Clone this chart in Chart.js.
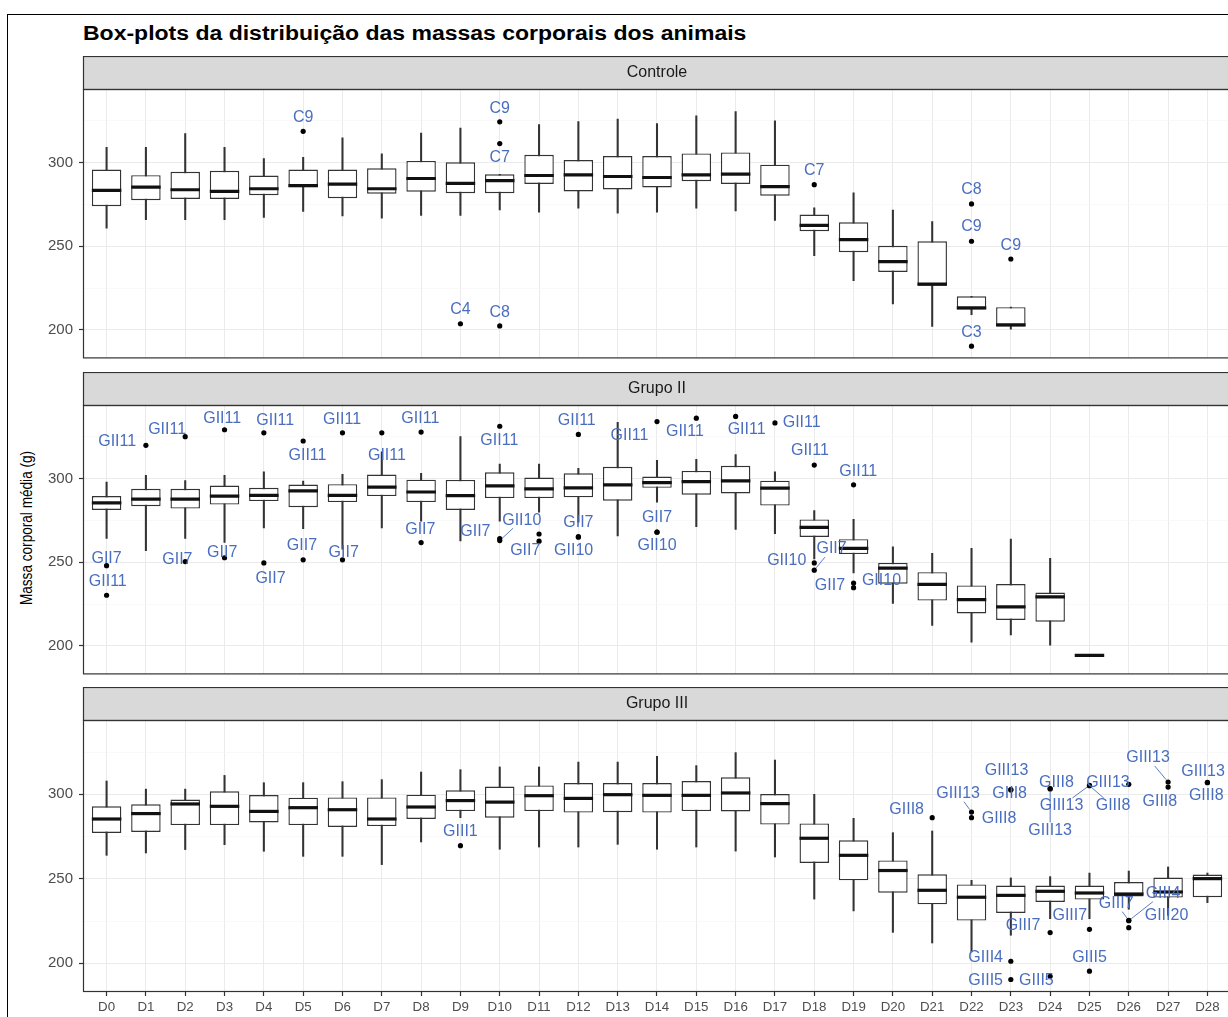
<!DOCTYPE html>
<html lang="pt">
<head>
<meta charset="utf-8">
<title>Box-plots da distribuição das massas corporais dos animais</title>
<script src="https://cdn.jsdelivr.net/npm/chart.js@4.4.1/dist/chart.umd.min.js"></script>
<style>
  html, body { margin: 0; padding: 0; background: #fff; overflow: hidden; width: 1228px; height: 1017px; }
  #frame { position: absolute; left: 7px; top: 14px; width: 1400px; height: 1100px;
           border-left: 1px solid #000; border-top: 1px solid #000; }
  #title { position: absolute; left: 83px; top: 23px; white-space: nowrap; color: #000;
           font: bold 20px 'Liberation Sans', Arial, Helvetica, sans-serif; line-height: 20px;
           transform: scaleX(1.15); transform-origin: 0 0; }
  #ytitle { position: absolute; left: -124.5px; top: 519.5px; width: 300px; height: 16px;
            line-height: 16px; text-align: center; white-space: nowrap; color: #000;
            font: 16px 'Liberation Sans', Arial, Helvetica, sans-serif;
            transform: rotate(-90deg) scaleX(0.85); }
  canvas { position: absolute; left: 0; }
</style>
</head>
<body>
<div id="frame"></div>
<div id="title">Box-plots da distribuição das massas corporais dos animais</div>
<div id="ytitle">Massa corporal média (g)</div>
<canvas id="c1" width="1240" height="305" style="top:56px"></canvas>
<canvas id="c2" width="1240" height="305" style="top:372px"></canvas>
<canvas id="c3" width="1240" height="331" style="top:687px"></canvas>
<script>
// ---- categories and axis ticks ----
const days = ['D0','D1','D2','D3','D4','D5','D6','D7','D8','D9','D10','D11','D12','D13','D14',
              'D15','D16','D17','D18','D19','D20','D21','D22','D23','D24','D25','D26','D27','D28'];
const yTicks = [200, 225, 250, 275, 300, 325];
const yLabelTicks = [200, 250, 300];
const facetNames = ['Controle', 'Grupo II', 'Grupo III'];

// ---- Controle: whisker ends, quartiles, medians ----
const ctrlLow  = [260.9,265.9,265.9,265.9,267.2,270.8,268.2,266.8,268.4,268.4,271.8,270.4,272.8,269.8,270.4,272.8,271.2,265.5,244.4,229.4,215.6,202.1,209.2,200.4,null,null,null,null,null];
const ctrlQ1   = [274.0,277.5,278.3,278.3,280.5,285.3,278.7,281.4,282.6,281.7,281.7,287.3,282.8,284.0,285.2,288.9,287.3,280.2,259.0,246.5,234.7,226.4,212.2,202.0,null,null,null,null,null];
const ctrlMed  = [283.4,285.4,283.8,282.8,284.4,286.2,287.2,284.4,290.5,287.6,289.3,292.3,292.7,291.7,291.1,292.7,293.1,285.6,262.5,254.0,240.8,227.4,213.2,203.0,null,null,null,null,null];
const ctrlQ3   = [295.9,292.5,294.5,295.1,292.3,295.9,295.9,296.6,301.0,300.2,293.0,304.7,301.5,303.9,303.9,305.5,306.1,298.8,269.0,264.3,250.3,253.0,220.1,213.6,null,null,null,null,null];
const ctrlHigh = [309.2,309.2,317.3,309.2,302.4,303.1,314.8,305.3,317.7,320.7,293.0,322.7,324.6,326.0,323.3,328.0,330.5,325.0,273.0,282.0,271.6,264.7,220.1,213.6,null,null,null,null,null];
// outliers: [day index, mass, animal]
const ctrlOut = [
  [5,318.7,'C9'], [9,203.7,'C4'], [10,324.4,'C9'], [10,311.4,'C7'], [10,202.4,'C8'],
  [18,286.8,'C7'], [22,275.3,'C8'], [22,253.0,'C9'], [22,190.3,'C3'], [23,242.4,'C9']
];
// label anchor for each outlier (day units, mass units, draw connector)
const ctrlLabelAt = [
  [5.0,327.2,0], [9.0,212.2,0], [10.0,332.5,0], [10.0,303.0,0], [10.0,210.2,0],
  [18.0,295.4,0], [22.0,283.6,0], [22.0,261.9,0], [22.0,198.4,0], [23.0,250.7,0]
];

// ---- Grupo II ----
const g2Low  = [264.2,257.0,264.2,261.8,270.5,270.1,257.9,270.5,274.6,262.8,274.6,279.9,274.0,265.7,286.0,271.3,269.7,267.1,252.0,243.7,225.4,212.2,202.3,206.6,200.4,194.4,null,null,null];
const g2Q1   = [281.3,283.5,282.1,284.5,286.6,282.9,286.0,289.6,286.0,281.3,288.4,288.4,288.8,286.8,294.5,290.4,291.1,283.9,265.1,254.9,237.2,227.1,219.4,215.5,214.5,194.4,null,null,null];
const g2Med  = [285.5,287.8,287.8,289.6,290.0,292.7,290.0,294.9,292.0,289.8,295.7,293.9,294.5,296.3,297.6,298.2,298.6,294.3,270.9,258.3,246.5,236.8,227.7,223.4,229.3,194.4,null,null,null];
const g2Q3   = [289.6,293.9,293.9,295.9,294.5,296.5,296.7,302.4,299.4,299.2,303.8,300.6,303.2,307.1,301.2,304.6,307.7,298.8,275.6,263.8,249.6,244.1,236.2,237.0,231.9,194.4,null,null,null];
const g2High = [297.9,302.0,298.8,302.0,304.0,298.6,302.6,316.0,303.2,325.2,308.7,308.7,306.1,333.7,311.0,311.5,314.4,304.1,280.9,275.6,259.2,255.3,258.4,263.8,252.4,194.4,null,null,null];
const g2Out = [
  [0,248.0,'GII7'], [0,230.3,'GII11'],
  [1,319.9,'GII11'],
  [2,325.1,'GII11'], [2,250.4,'GII7'],
  [3,329.2,'GII11'], [3,252.7,'GII7'],
  [4,327.4,'GII11'], [4,249.6,'GII7'],
  [5,322.5,'GII11'], [5,251.5,'GII7'],
  [6,327.4,'GII11'], [6,251.5,'GII7'],
  [7,327.4,'GII11'],
  [8,327.8,'GII11'], [8,261.8,'GII7'],
  [10,331.3,'GII11'], [10,264.2,'GII7'], [10,263.0,'GII10'],
  [11,266.9,''], [11,262.6,'GII7'],
  [12,326.4,'GII11'], [12,265.4,'GII7'], [12,265.0,'GII10'],
  [14,334.1,'GII11'], [14,268.1,'GII7'], [14,268.0,'GII10'],
  [15,336.1,'GII11'],
  [16,337.2,'GII11'],
  [17,333.3,'GII11'],
  [18,308.1,'GII11'], [18,249.6,'GII10'], [18,245.3,'GII7'],
  [19,296.3,'GII11'], [19,237.6,'GII7'], [19,234.8,'GII10']
];
const g2LabelAt = [
  [0.0,252.4,0], [0.03,238.2,0],
  [0.27,322.3,0],
  [1.54,329.2,0], [1.8,251.5,0],
  [2.94,335.7,0], [2.94,255.5,0],
  [4.29,334.7,0], [4.17,240.1,0],
  [5.11,314.0,0], [4.97,259.8,0],
  [5.99,335.1,0], [6.03,256.0,0],
  [7.13,314.0,0],
  [7.98,335.6,0], [7.98,269.6,0],
  [9.99,322.9,0], [9.38,268.3,0], [10.56,275.2,1],
  [11.0,266.9,0], [10.65,256.9,0],
  [11.96,334.7,0], [12.0,273.6,0], [11.88,256.9,0],
  [13.3,325.8,0], [14.0,276.6,0], [14.0,259.8,0],
  [14.71,328.2,0],
  [16.28,329.2,0],
  [17.68,333.7,0],
  [17.89,317.0,0], [17.3,250.9,0], [18.44,257.9,1],
  [19.12,304.1,0], [18.4,236.2,0], [19.71,238.8,0]
];

// ---- Grupo III ----
const g3Low  = [263.9,265.3,267.3,270.2,266.3,263.3,263.3,258.4,271.8,286.2,267.5,268.8,268.8,270.4,267.5,268.8,266.4,262.9,238.0,231.0,218.3,212.0,206.7,216.6,226.4,226.4,232.0,228.4,235.9];
const g3Q1   = [277.1,277.7,281.8,281.8,283.4,281.8,280.7,281.2,285.4,290.1,286.2,290.1,289.2,289.4,289.2,290.1,289.9,282.1,259.4,249.1,241.8,234.9,225.3,229.8,236.3,237.7,239.6,238.9,239.1];
const g3Med  = [285.4,288.6,294.3,292.9,289.9,292.1,290.9,285.4,292.5,296.3,295.4,299.2,297.6,299.8,299.4,299.4,300.8,294.5,274.0,263.9,254.9,243.2,239.1,240.2,242.6,241.6,241.0,242.2,250.1];
const g3Q3   = [292.9,294.1,296.9,301.8,299.6,298.0,298.2,298.2,299.8,302.4,304.6,305.3,306.7,306.7,306.7,307.9,310.1,300.2,282.8,272.8,260.9,252.7,246.7,246.0,246.0,246.0,248.1,250.7,252.5];
const g3High = [307.9,303.1,303.1,311.2,306.9,306.9,307.5,308.7,313.2,314.6,316.2,316.2,319.1,319.1,322.5,317.0,324.7,320.3,300.0,285.8,277.3,278.3,249.1,250.5,251.3,253.4,254.6,257.0,253.4];
const g3Out = [
  [9,269.6,'GIII1'],
  [21,286.2,'GIII8'],
  [22,289.5,'GIII13'], [22,286.2,'GIII8'],
  [23,302.8,'GIII13'], [23,302.6,'GIII8'], [23,201.2,'GIII4'], [23,190.4,'GIII5'],
  [24,303.4,'GIII8'], [24,303.2,'GIII13'], [24,218.2,'GIII7'], [24,192.3,'GIII5'],
  [25,305.3,'GIII13'], [25,305.1,'GIII8'], [25,220.1,'GIII7'], [25,195.3,'GIII5'],
  [26,305.9,'GIII13'], [26,225.4,'GIII7'], [26,221.1,'GIII20'], [26,225.2,'GIII4'],
  [27,307.3,'GIII13'], [27,304.3,'GIII8'],
  [28,307.1,'GIII13'], [28,306.9,'GIII8']
];
const g3LabelAt = [
  [9.0,278.1,0],
  [20.35,291.1,0],
  [21.66,300.4,1], [22.7,285.6,0],
  [22.89,314.2,0], [22.97,300.4,0], [22.36,203.1,0], [22.36,190.0,0],
  [24.16,306.9,0], [24.0,278.7,1], [23.31,222.5,0], [23.65,190.0,0],
  [24.29,293.1,1], [25.6,293.1,1], [24.5,228.4,0], [25.0,203.1,0],
  [25.47,306.9,0], [25.68,235.3,1], [26.96,228.0,0], [26.87,241.2,1],
  [26.49,321.5,1], [26.79,295.9,0],
  [27.89,313.2,0], [27.97,299.4,0]
];

// ---- drawing ----
const FONT = "'Liberation Sans', Arial, Helvetica, sans-serif";
const LABEL_BLUE = '#4A6EBF';
const STRIP_H = 33;

// facet strip with its title, and the panel border
const facetPlugin = {
  id: 'facet',
  afterDraw(chart, args, opts) {
    const { ctx, chartArea: a } = chart;
    ctx.save();
    ctx.fillStyle = '#D9D9D9';
    ctx.fillRect(a.left, a.top - STRIP_H, a.right - a.left, STRIP_H);
    ctx.strokeStyle = '#333333';
    ctx.lineWidth = 1.2;
    ctx.strokeRect(a.left + 0.5, a.top - STRIP_H + 0.5, a.right - a.left - 1, STRIP_H);
    ctx.strokeRect(a.left + 0.5, a.top + 0.5, a.right - a.left - 1, a.bottom - a.top - 1);
    ctx.fillStyle = '#1A1A1A';
    ctx.font = '16px ' + FONT;
    ctx.textAlign = 'center';
    ctx.textBaseline = 'middle';
    ctx.fillText(opts.title, (a.left + a.right) / 2, a.top - STRIP_H / 2 + 0.5);
    ctx.restore();
  }
};

// outlier names, with a thin connector where the name sits away from its point
const outlierLabelPlugin = {
  id: 'outlierLabels',
  afterDatasetsDraw(chart, args, opts) {
    const { ctx, chartArea: a, scales: { x, y } } = chart;
    ctx.save();
    ctx.beginPath();
    ctx.rect(a.left, a.top, a.right - a.left, a.bottom - a.top);
    ctx.clip();
    ctx.font = '16px ' + FONT;
    ctx.textAlign = 'center';
    ctx.textBaseline = 'middle';
    opts.points.forEach((p, i) => {
      const name = p[2];
      if (!name) return;
      const at = opts.places[i];
      const lx = x.getPixelForValue(at[0]);
      const ly = y.getPixelForValue(at[1]);
      if (at[2]) {
        const px = x.getPixelForValue(p[0]);
        const py = y.getPixelForValue(p[1]);
        const hw = ctx.measureText(name).width / 2 + 2;
        const hh = 8;
        const vx = px - lx, vy = py - ly;
        const s = Math.min(vx ? hw / Math.abs(vx) : Infinity, vy ? hh / Math.abs(vy) : Infinity);
        if (s < 1) {
          const len = Math.hypot(vx, vy);
          const ex = lx + vx * s, ey = ly + vy * s;
          const sx = px - vx / len * 3, sy = py - vy / len * 3;
          ctx.strokeStyle = LABEL_BLUE;
          ctx.lineWidth = 0.9;
          ctx.beginPath();
          ctx.moveTo(sx, sy);
          ctx.lineTo(ex, ey);
          ctx.stroke();
        }
      }
      ctx.fillStyle = LABEL_BLUE;
      ctx.fillText(name, lx, ly);
    });
    ctx.restore();
  }
};

function makeFacet(canvasId, title, low, q1, med, q3, high, out, labelAt, showX) {
  const whiskers = [], boxes = [], medians = [];
  days.forEach((d, i) => {
    if (med[i] == null) return;
    whiskers.push({ x: i, y: [low[i], high[i]] });
    boxes.push({ x: i, y: [q1[i], q3[i]] });
    medians.push({ x: i, y: med[i] });
  });
  const points = out.map(o => ({ x: o[0], y: o[1] }));

  return new Chart(document.getElementById(canvasId), {
    type: 'bar',
    data: {
      datasets: [
        { type: 'scatter', data: points, order: 0,
          pointRadius: 2.6, pointHoverRadius: 2.6, pointBackgroundColor: '#000', pointBorderWidth: 0 },
        { type: 'scatter', data: medians, order: 1, pointStyle: 'line',
          pointRadius: c => { const sx = c.chart.scales.x; return sx ? Math.abs(sx.getPixelForValue(0.375) - sx.getPixelForValue(0)) : 14.7; },
          pointHoverRadius: 14.7, pointBorderColor: '#111111', pointBorderWidth: 3.2 },
        { type: 'bar', data: boxes, order: 2, grouped: false,
          backgroundColor: '#FFFFFF', borderColor: '#333333', borderWidth: 1.4, borderSkipped: false,
          barPercentage: 0.75, categoryPercentage: 1 },
        { type: 'bar', data: whiskers, order: 3, grouped: false,
          backgroundColor: '#333333', borderWidth: 0, barThickness: 1.4 }
      ]
    },
    options: {
      responsive: false,
      animation: false,
      events: [],
      layout: { padding: { top: STRIP_H, right: 9, left: 0, bottom: 0 } },
      plugins: {
        legend: { display: false },
        tooltip: { enabled: false },
        facet: { title },
        outlierLabels: { points: out, places: labelAt }
      },
      scales: {
        x: {
          type: 'linear', min: -0.6, max: 28.6, offset: false,
          afterBuildTicks: s => { s.ticks = days.map((d, i) => ({ value: i })); },
          afterFit: s => { s.height = showX ? 26 : 0; s.paddingLeft = 0; s.paddingRight = 0; },
          ticks: { display: showX, autoSkip: false, maxRotation: 0, padding: 3,
                   color: '#4D4D4D', font: { family: FONT, size: 13.3 },
                   callback: v => days[v] },
          grid: { offset: false, color: '#EBEBEB', lineWidth: 1,
                  drawTicks: showX, tickLength: 4, tickColor: '#333333', tickWidth: 1.2 },
          border: { display: false }
        },
        y: {
          type: 'linear', min: 183, max: 344,
          afterBuildTicks: s => { s.ticks = yTicks.map(v => ({ value: v })); },
          afterFit: s => { s.width = 83; s.paddingTop = 0; s.paddingBottom = 0; },
          ticks: { padding: 6, color: '#4D4D4D', font: { family: FONT, size: 15 },
                   callback: v => yLabelTicks.includes(v) ? String(v) : '' },
          grid: {
            color: c => yLabelTicks.includes(c.tick.value) ? '#EBEBEB' : '#F5F5F5',
            lineWidth: c => yLabelTicks.includes(c.tick.value) ? 1 : 0.6,
            tickLength: 4,
            tickColor: c => yLabelTicks.includes(c.tick.value) ? '#333333' : 'rgba(0,0,0,0)',
            tickWidth: 1.2
          },
          border: { display: false }
        }
      }
    },
    plugins: [facetPlugin, outlierLabelPlugin]
  });
}

makeFacet('c1', facetNames[0], ctrlLow, ctrlQ1, ctrlMed, ctrlQ3, ctrlHigh, ctrlOut, ctrlLabelAt, false);
makeFacet('c2', facetNames[1], g2Low, g2Q1, g2Med, g2Q3, g2High, g2Out, g2LabelAt, false);
makeFacet('c3', facetNames[2], g3Low, g3Q1, g3Med, g3Q3, g3High, g3Out, g3LabelAt, true);
</script>
</body>
</html>
